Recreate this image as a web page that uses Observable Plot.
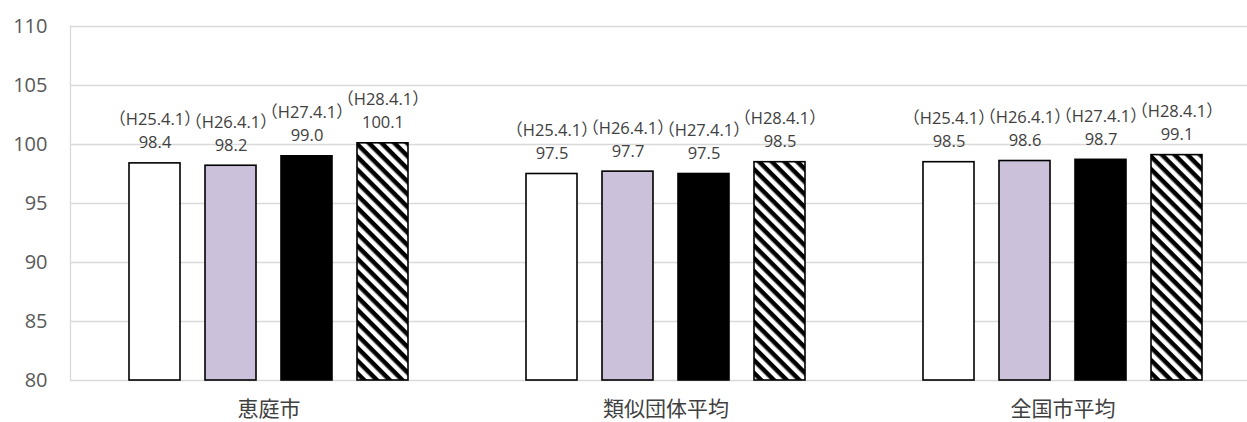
<!DOCTYPE html>
<html><head><meta charset="utf-8">
<script src="https://cdn.jsdelivr.net/npm/d3@7"></script>
<script src="https://cdn.jsdelivr.net/npm/@observablehq/plot@0.6"></script>
<style>body{margin:0;background:#fff;overflow:hidden}</style>
</head><body><div id="chart"></div>
<script>
const groups = ["恵庭市", "類似団体平均", "全国市平均"];
const series = ["（H25.4.1）", "（H26.4.1）", "（H27.4.1）", "（H28.4.1）"];
const valuesEniwa = [98.4, 98.2, 99.0, 100.1];
const valuesSimilar = [97.5, 97.7, 97.5, 98.5];
const valuesNational = [98.5, 98.6, 98.7, 99.1];
const yTicks = [80, 85, 90, 95, 100, 105, 110];
const fills = ["#ffffff", "#CCC1DA", "#000000", "url(#hatch)"];

const table = [];
[valuesEniwa, valuesSimilar, valuesNational].forEach((vals, gi) =>
  vals.forEach((v, si) => table.push({group: groups[gi], series: series[si], value: v})));

const chart = Plot.plot({
  width: 1247, height: 422,
  marginTop: 26, marginBottom: 42, marginLeft: 70, marginRight: 0,
  style: {fontFamily: "'Open Sans', 'Noto Sans CJK JP', sans-serif", background: "#fff"},
  fx: {domain: groups, range: [70, 1261], padding: 0, label: null},
  x: {domain: series, paddingInner: 0.33, paddingOuter: 0.745, axis: null},
  y: {domain: [80, 110], ticks: yTicks, label: null},
  color: {domain: series, range: fills, type: "ordinal"},
  marks: [
    Plot.ruleY(yTicks, {stroke: "#d9d9d9", strokeWidth: 1.3}),
    Plot.frame({anchor: "left", facetAnchor: "left", stroke: "#d9d9d9", strokeWidth: 1.3}),
    Plot.barY(table, {fx: "group", x: "series", y1: 80, y2: "value", fill: "series", stroke: "#000", strokeWidth: 1.6}),
    Plot.text(table, {fx: "group", x: "series", y: "value",
      text: d => d.series + "\n" + d.value.toFixed(1),
      lineAnchor: "bottom", dy: -15, lineHeight: 1.4, fontSize: 16.5, fill: "#404040"}),
    Plot.axisY({ticks: yTicks, tickSize: 0, tickPadding: 23, fontSize: 20, color: "#595959", label: null}),
    Plot.axisFx({anchor: "bottom", tickSize: 0, tickPadding: 21, fontSize: 21, color: "#404040", label: null})
  ]
});

const defs = d3.select(chart).insert("defs", ":first-child");
const pat = defs.append("pattern").attr("id", "hatch").attr("patternUnits", "userSpaceOnUse")
  .attr("width", 9).attr("height", 9).attr("patternTransform", "rotate(45)");
pat.append("rect").attr("width", 9).attr("height", 9).attr("fill", "#fff");
pat.append("rect").attr("width", 9).attr("height", 4.5).attr("fill", "#000");

document.getElementById("chart").appendChild(chart);
</script>
</body></html>
